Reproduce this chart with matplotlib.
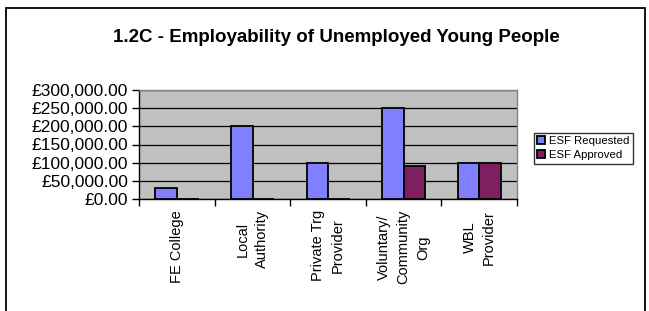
import matplotlib
matplotlib.use("Agg")
import matplotlib.pyplot as plt
from matplotlib.ticker import FuncFormatter, FixedLocator
from matplotlib.patches import Rectangle
import numpy as np

title = "1.2C - Employability of Unemployed Young People"
categories = ["FE College", "Local\nAuthority", "Private Trg\nProvider",
              "Voluntary/\nCommunity\nOrg", "WBL\nProvider"]
esf_requested = [30000, 200000, 100000, 250000, 100000]
esf_approved = [0, 0, 0, 90000, 100000]
series_names = ["ESF Requested", "ESF Approved"]
y_ticks = [0, 50000, 100000, 150000, 200000, 250000, 300000]

plt.rcParams['font.family'] = ['Liberation Sans', 'DejaVu Sans']

W, H = 649, 311
fig = plt.figure(figsize=(W / 100, H / 100), dpi=100)
fig.patch.set_facecolor('white')

# outer chart frame
fig.add_artist(Rectangle((6 / W, -0.1), (645 - 6) / W, 1.1 - 7.5 / H,
                         transform=fig.transFigure, fill=False,
                         edgecolor='black', linewidth=1.3))

ax = fig.add_axes([139.3 / W, 1 - 199 / H, (517 - 139.3) / W, (199 - 90) / H])
ax.set_facecolor('#C0C0C0')

x = np.arange(len(categories))
w = 1 / 3.5
b1 = ax.bar(x - w / 2, esf_requested, w, color='#8080FF', edgecolor='black',
            linewidth=1.3, label=series_names[0], zorder=3)
b2 = ax.bar(x + w / 2, esf_approved, w, color='#801F60', edgecolor='black',
            linewidth=1.3, label=series_names[1], zorder=3)

ax.set_xlim(-0.5, len(categories) - 0.5)
ax.set_ylim(0, 300000)
ax.yaxis.set_major_locator(FixedLocator(y_ticks))
ax.yaxis.set_major_formatter(FuncFormatter(lambda v, p: "£{:,.2f}".format(v)))
ax.grid(axis='y', color='black', linewidth=0.9, zorder=1)
ax.set_axisbelow(True)

ax.set_xticks(x)
ax.set_xticklabels(categories, rotation=90, ha='center', va='top',
                   multialignment='center', fontsize=10.5, linespacing=1.5)
ax.set_xticks(np.arange(len(categories) + 1) - 0.5, minor=True)
ax.tick_params(axis='x', which='major', length=0, pad=8)
ax.tick_params(axis='x', which='minor', length=5, width=1, direction='out', color='black')
ax.tick_params(axis='y', length=5, width=1, direction='out', labelsize=12.5, pad=3)

for s in ['top', 'right']:
    ax.spines[s].set_color('#808080')
    ax.spines[s].set_linewidth(1)
for s in ['left', 'bottom']:
    ax.spines[s].set_color('black')
    ax.spines[s].set_linewidth(1)

fig.text(336 / W, 1 - 38 / H, title, ha='center', va='center',
         fontsize=13.5, fontweight='bold')

leg = fig.legend(handles=[b1, b2], labels=series_names, loc='upper left',
                 bbox_to_anchor=(534 / W, 1 - 133 / H), fontsize=8.2,
                 frameon=True, fancybox=False, handlelength=0.7,
                 handleheight=0.7, handletextpad=0.3, borderpad=0.3,
                 labelspacing=0.35, borderaxespad=0)
leg.get_frame().set_edgecolor('black')
leg.get_frame().set_linewidth(1)

fig.savefig("out.png", dpi=100)
